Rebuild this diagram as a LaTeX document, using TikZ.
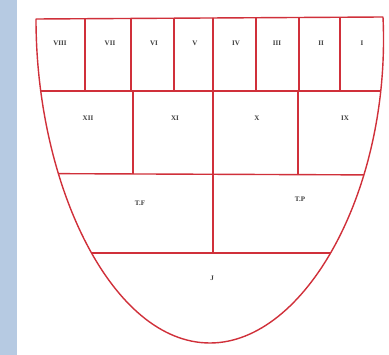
\documentclass[tikz,border=0pt]{standalone}
\usepackage{fontspec}
\setmainfont{Liberation Serif}
\definecolor{strip}{RGB}{182,202,226}
\definecolor{wall}{RGB}{208,48,58}
\definecolor{lbl}{RGB}{60,60,60}
\begin{document}
\begin{tikzpicture}[x=1pt,y=-1pt,
  wallline/.style={draw=wall,line width=1.4pt,line join=round},
  lab/.style={font=\fontsize{7}{8}\selectfont\bfseries,text=lbl,inner sep=0pt}]
\useasboundingbox (0,0) rectangle (389,355);
\fill[white] (0,0) rectangle (389,355);
\fill[strip] (0,0) rectangle (17,355);
\def\outline{(36,19) -- (383,17) .. controls (391,190) and (305,343) .. (210,343) .. controls (112,343) and (36,185) .. (36,19) -- cycle}
\begin{scope}
  \clip \outline;
  % horizontal lines
  \draw[wallline] (20,91) -- (389,91);
  \draw[wallline] (20,173.5) -- (389,175);
  \draw[wallline] (20,253) -- (389,253);
  % top row dividers
  \foreach \x in {85,131,174,213,256,299,340} {
    \draw[wallline] (\x,10) -- (\x,91);
  }
  % second row dividers
  \foreach \x in {133,213,298} {
    \draw[wallline] (\x,91) -- (\x,174.5);
  }
  % third row divider
  \draw[wallline] (213,174.5) -- (213,253);
\end{scope}
\draw[wallline] \outline;
% labels
\node[lab] (l8) at (60,43) {VIII};
\node[lab] (l7) at (110,43) {VII};
\node[lab] (l6) at (154,43) {VI};
\node[lab] (l5) at (195,43) {V};
\node[lab] (l4) at (236,43) {IV};
\node[lab] (l3) at (277,43) {III};
\node[lab] (l2) at (321,43) {II};
\node[lab] (l1) at (362,43) {I};
\node[lab] (l12) at (88,118) {XII};
\node[lab] (l11) at (175,118) {XI};
\node[lab] (l10) at (257,118) {X};
\node[lab] (l9) at (345,118) {IX};
\node[lab] (tf) at (140,203) {T.F};
\node[lab] (tp) at (300,199) {T.P};
\node[lab] (j) at (212,278) {J};
\end{tikzpicture}
\end{document}
